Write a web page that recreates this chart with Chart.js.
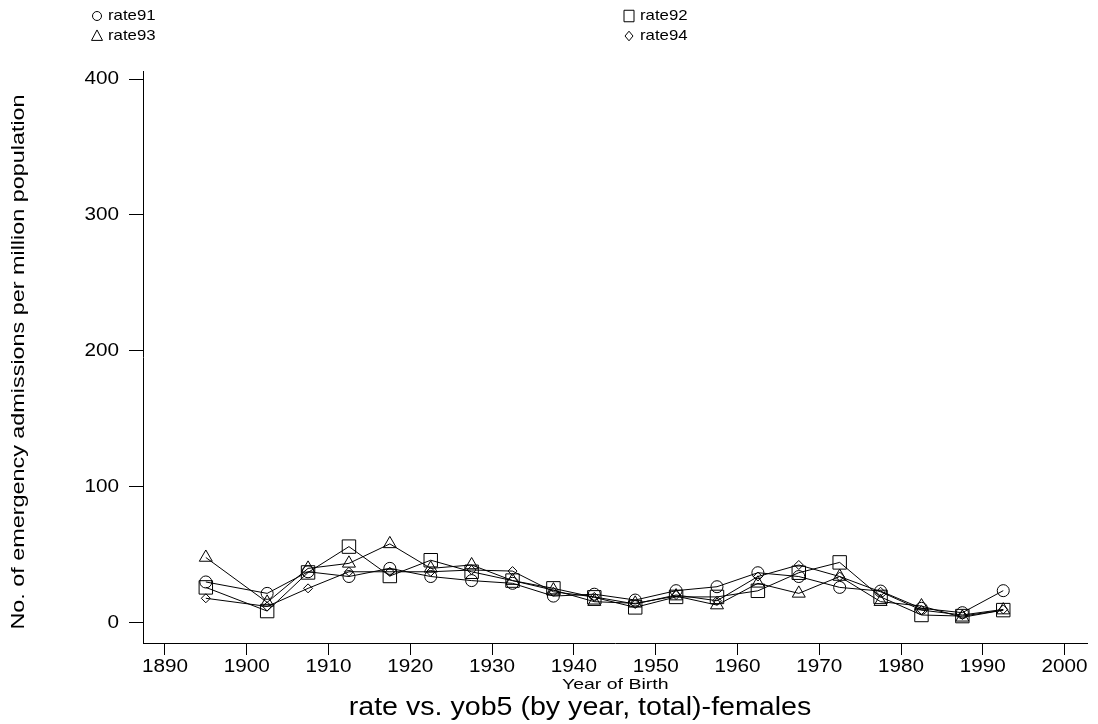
<!DOCTYPE html>
<html>
<head>
<meta charset="utf-8">
<script src="https://cdn.jsdelivr.net/npm/chart.js@4.4.1/dist/chart.umd.min.js"></script>
<style>
    body { margin: 0; background: #fff; }
    #wrap { width: 1098px; height: 724px; }
</style>
</head>
<body>
<div id="wrap"><canvas id="myChart" width="1098" height="724"></canvas></div>
<script>
// year of birth (5-year groups)
const years = [1895, 1902.5, 1907.5, 1912.5, 1917.5, 1922.5, 1927.5, 1932.5, 1937.5, 1942.5,
    1947.5, 1952.5, 1957.5, 1962.5, 1967.5, 1972.5, 1977.5, 1982.5, 1987.5, 1992.5]
const rate91 = [30, 21.6, 37.5, 34, 40, 34, 31, 29, 19.6, 21, 16.7, 23.6, 26.5, 36.8, 34, 26, 23.3, 10.6, 7.4, 23.6]
const rate92 = [26, 8.6, 37, 56, 34.4, 46, 37.5, 31, 25.3, 18.7, 11.3, 19, 19, 23.5, 36.8, 44.4, 19, 5.7, 4.9, 9.3]
const rate93 = [48, 15, 40, 43.7, 58, 40, 42.5, 31, 24, 15.5, 14.3, 19.6, 13, 29, 21.6, 34, 15.5, 12.3, 4, 9.3]
const rate94 = [18, 12, 25.3, 37.5, 37.5, 37.5, 38.8, 38, 22.8, 19, 13.8, 20.4, 16.2, 34, 42.5, 34, 22.8, 9.3, 5.7, 9.8]
const xTicks = [1890, 1900, 1910, 1920, 1930, 1940, 1950, 1960, 1970, 1980, 1990, 2000]
const yTicks = [0, 100, 200, 300, 400]

const FONT = '"Liberation Sans", Arial, Helvetica, sans-serif'

function toPoints(arr) {
    return arr.map((v, i) => ({x: years[i], y: v}))
}

// text in the original is drawn wide, so stretch it by hand
function wideText(ctx, txt, x, y, size, sx, align, rot) {
    ctx.save()
    ctx.translate(x, y)
    if (rot) ctx.rotate(rot)
    ctx.scale(sx, 1)
    ctx.font = size + 'px ' + FONT
    ctx.textAlign = align
    ctx.textBaseline = 'middle'
    ctx.fillStyle = '#000'
    ctx.fillText(txt, 0, 0)
    ctx.restore()
}

function marker(ctx, style, x, y, r) {
    ctx.beginPath()
    if (style === 'circle') {
        ctx.arc(x, y, r, 0, Math.PI * 2)
    } else if (style === 'rect') {
        ctx.rect(x - r, y - r * 1.15, r * 2, r * 2.3)
    } else if (style === 'triangle') {
        ctx.moveTo(x, y - r * 1.1)
        ctx.lineTo(x + r, y + r * 0.8)
        ctx.lineTo(x - r, y + r * 0.8)
        ctx.closePath()
    } else {
        ctx.moveTo(x, y - r * 1.2)
        ctx.lineTo(x + r, y)
        ctx.lineTo(x, y + r * 1.2)
        ctx.lineTo(x - r, y)
        ctx.closePath()
    }
    ctx.strokeStyle = '#000'
    ctx.lineWidth = 1
    ctx.stroke()
}

const textPlugin = {
    id: 'stataText',
    afterDraw: (chart) => {
        const {ctx, chartArea} = chart
        const xs = chart.scales.x
        const ys = chart.scales.y
        // tick labels
        yTicks.forEach(v => {
            wideText(ctx, String(v), chartArea.left - 24, ys.getPixelForValue(v), 18, 1.15, 'right')
        })
        xTicks.forEach(v => {
            wideText(ctx, String(v), xs.getPixelForValue(v), chartArea.bottom + 24, 18, 1.15, 'center')
        })
        // axis titles
        wideText(ctx, 'Year of Birth', (chartArea.left + chartArea.right) / 2, 685, 15, 1.3, 'center')
        wideText(ctx, 'No. of emergency admissions per million population', 19, 362, 19, 1.23, 'center', -Math.PI / 2)
        // main title
        wideText(ctx, 'rate vs. yob5 (by year, total)-females', 580, 708, 26, 1.1, 'center')
        // legend, two columns
        const leg = [
            ['circle', 'rate91', 97, 16, 4.5],
            ['rect', 'rate92', 629, 16, 5],
            ['triangle', 'rate93', 97, 36, 5.5],
            ['rectRot', 'rate94', 629, 36, 4],
        ]
        leg.forEach(l => {
            marker(ctx, l[0], l[2], l[3], l[4])
            wideText(ctx, l[1], l[2] + 11, l[3], 15, 1.12, 'left')
        })
    }
}

function makeSet(label, arr, style, radius) {
    return {
        label: label,
        data: toPoints(arr),
        borderColor: '#000',
        borderWidth: 1,
        backgroundColor: 'rgba(0,0,0,0)',
        pointStyle: style,
        pointRadius: radius,
        pointBorderColor: '#000',
        pointBorderWidth: 1,
        pointBackgroundColor: 'rgba(0,0,0,0)',
        tension: 0,
        fill: false,
    }
}

const ctx = document.getElementById('myChart')
new Chart(ctx, {
    type: 'line',
    data: {
        datasets: [
            makeSet('rate91', rate91, 'circle', 6),
            makeSet('rate92', rate92, 'rect', 9.5),
            makeSet('rate93', rate93, 'triangle', 7.5),
            makeSet('rate94', rate94, 'rectRot', 4.5),
        ]
    },
    options: {
        responsive: false,
        animation: false,
        layout: {padding: {left: 0, right: 8, top: 71, bottom: 0}},
        plugins: {
            legend: {display: false},
            tooltip: {enabled: false},
        },
        scales: {
            x: {
                type: 'linear',
                min: 1887.32,
                max: 2002.8,
                afterBuildTicks: s => { s.ticks = xTicks.map(v => ({value: v})) },
                afterFit: s => { s.height = 81 },
                ticks: {display: false},
                grid: {drawOnChartArea: false, drawTicks: true, tickLength: 12, color: '#000', lineWidth: 1},
                border: {display: true, color: '#000', width: 1},
            },
            y: {
                type: 'linear',
                min: -14.9,
                max: 405.9,
                afterBuildTicks: s => { s.ticks = yTicks.map(v => ({value: v})) },
                afterFit: s => { s.width = 143 },
                ticks: {display: false},
                grid: {drawOnChartArea: false, drawTicks: true, tickLength: 14, color: '#000', lineWidth: 1},
                border: {display: true, color: '#000', width: 1},
            }
        }
    },
    plugins: [textPlugin],
})
</script>
</body>
</html>
